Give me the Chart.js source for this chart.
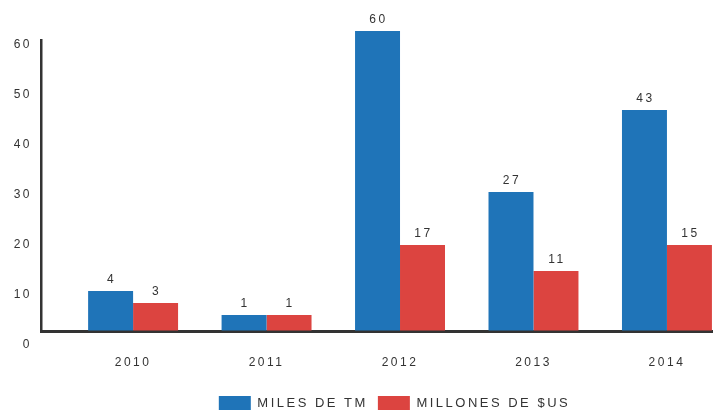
<!DOCTYPE html>
<html lang="es">
<head>
    <meta charset="UTF-8">
    <title>Miles de TM / Millones de $US</title>
    <script src="https://cdn.jsdelivr.net/npm/chart.js"></script>
    <style>
        body { margin: 0; background: #fff; }
        #wrap { width: 713px; height: 413px; }
    </style>
</head>
<body>
<div id="wrap"><canvas id="barChart"></canvas></div>

<script>
    // Datos
    const years = [2010, 2011, 2012, 2013, 2014];
    // altura de las barras tal como estan dibujadas
    const milesTmBars = [8, 3.2, 60, 27.8, 44.2];
    const millonesBars = [5.6, 3.2, 17.2, 12, 17.2];
    // etiquetas encima de las barras
    const milesTmLabels = ['4', '1', '60', '27', '43'];
    const millonesLabels = ['3', '1', '17', '11', '15'];
    const yTicks = [0, 10, 20, 30, 40, 50, 60];

    const BLUE = '#1f74b8';
    const RED = '#dc4440';
    const TEXT = '#333';
    const FONT = '"Liberation Sans", Arial, sans-serif';

    // espaciado de letras como en el original
    const spacing = {
        id: 'spacing',
        beforeUpdate(chart) { chart.ctx.letterSpacing = '2.5px'; },
        beforeDraw(chart) { chart.ctx.letterSpacing = '2.5px'; }
    };

    // etiquetas de valor encima de cada barra
    const valueLabels = {
        id: 'valueLabels',
        afterDatasetsDraw(chart) {
            const ctx = chart.ctx;
            ctx.save();
            ctx.font = '12px ' + FONT;
            ctx.fillStyle = TEXT;
            ctx.textAlign = 'center';
            ctx.textBaseline = 'bottom';
            chart.data.datasets.forEach((ds, d) => {
                chart.getDatasetMeta(d).data.forEach((bar, i) => {
                    ctx.fillText(ds.valueLabels[i], bar.x + 1, bar.y - 5);
                });
            });
            ctx.restore();
        }
    };

    // mover la leyenda a su sitio
    const legendShift = {
        id: 'legendShift',
        afterLayout(chart) {
            const lg = chart.legend;
            lg.left += 38; lg.right += 38;
            lg.top += 7; lg.bottom += 7;
        }
    };

    new Chart(document.getElementById('barChart'), {
        type: 'bar',
        data: {
            datasets: [{
                label: 'MILES DE TM',
                data: years.map((y, i) => ({x: y, y: milesTmBars[i]})),
                valueLabels: milesTmLabels,
                backgroundColor: BLUE,
                clip: false
            }, {
                label: 'MILLONES DE $US',
                data: years.map((y, i) => ({x: y, y: millonesBars[i]})),
                valueLabels: millonesLabels,
                backgroundColor: RED,
                clip: false
            }]
        },
        options: {
            responsive: true,
            maintainAspectRatio: false,
            animation: false,
            categoryPercentage: 0.674,
            barPercentage: 1,
            layout: { padding: { top: 40, right: 0, left: 0, bottom: 0 } },
            plugins: {
                legend: {
                    position: 'bottom',
                    labels: {
                        boxWidth: 32,
                        boxHeight: 14,
                        padding: 10,
                        color: TEXT,
                        font: { family: FONT, size: 13 }
                    }
                },
                tooltip: { enabled: false }
            },
            scales: {
                x: {
                    type: 'linear',
                    offset: false,
                    min: 2009.31,
                    max: 2014.345,
                    afterFit(scale) { scale.height = 48; },
                    grid: { drawOnChartArea: false, drawTicks: false },
                    border: { color: '#333', width: 3 },
                    ticks: {
                        stepSize: 1,
                        includeBounds: false,
                        padding: 24,
                        color: TEXT,
                        font: { family: FONT, size: 12 },
                        callback: v => String(v)
                    }
                },
                y: {
                    min: 0,
                    max: 58.2,
                    afterFit(scale) { scale.width = 41; },
                    afterBuildTicks(scale) { scale.ticks = yTicks.map(v => ({value: v})); },
                    grid: { drawOnChartArea: false, drawTicks: false },
                    border: { color: '#333', width: 2.5 },
                    ticks: {
                        padding: 9,
                        labelOffset: 14,
                        color: TEXT,
                        font: { family: FONT, size: 12 }
                    }
                }
            }
        },
        plugins: [spacing, valueLabels, legendShift]
    });
</script>
</body>
</html>
